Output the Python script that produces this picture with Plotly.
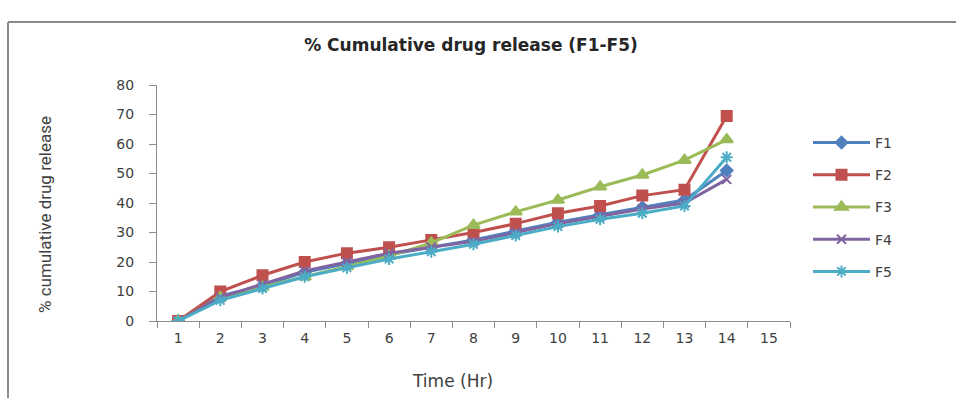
import plotly.graph_objects as go

# Sampling times (hours) shown on the category axis
hours = [str(h) for h in range(1, 16)]

# % cumulative drug release for each formulation (14 samples each)
f1 = [0, 8.5, 12, 16.5, 19.5, 22.5, 25, 27.5, 30.5, 33.5, 36, 38.5, 41, 51]
f2 = [0, 10, 15.5, 20, 23, 25, 27.5, 30, 33, 36.5, 39, 42.5, 44.5, 69.5]
f3 = [0, 8, 11.5, 15, 18.5, 22, 26.5, 32.5, 37, 41, 45.5, 49.5, 54.5, 61.5]
f4 = [0, 8, 12.5, 17, 20, 23, 25, 27, 30, 33, 35.5, 38, 40, 48]
f5 = [0, 7, 11, 15, 18, 21, 23.5, 26, 29, 32, 34.5, 36.5, 39, 55.5]

y_ticks = [0, 10, 20, 30, 40, 50, 60, 70, 80]

series = [
    ("F1", f1, "#4F81BD", "diamond", 9),
    ("F2", f2, "#C0504D", "square", 10),
    ("F3", f3, "#9BBB59", "triangle-up", 11),
    ("F4", f4, "#8064A2", "x-thin-open", 9),
    ("F5", f5, "#4BACC6", "asterisk-open", 10),
]

fig = go.Figure()
for name, vals, color, symbol, size in series:
    fig.add_trace(go.Scatter(
        x=hours[:len(vals)], y=vals, name=name, legendgroup=name,
        mode="lines+markers",
        line=dict(color=color, width=3),
        marker=dict(symbol=symbol, size=size, color=color,
                    line=dict(color=color, width=2)),
    ))

axis_color = "#8C8C8C"
tick_font = dict(family="DejaVu Sans", size=14, color="#404040")

fig.update_layout(
    width=956, height=398,
    margin=dict(l=157, r=166, t=85, b=77),
    paper_bgcolor="white", plot_bgcolor="white",
    showlegend=True,
    legend=dict(
        xref="container", yref="container",
        x=808 / 956, y=(398 - 127) / 398,
        xanchor="left", yanchor="top",
        itemwidth=57, tracegroupgap=11,
        font=dict(family="DejaVu Sans", size=14, color="#404040"),
        bgcolor="rgba(0,0,0,0)",
    ),
    title=dict(
        text="<b>% Cumulative drug release (F1-F5)</b>",
        xref="container", yref="container",
        x=471 / 956, y=(398 - 45) / 398,
        xanchor="center", yanchor="middle",
        font=dict(family="DejaVu Sans", size=17, color="#262626"),
    ),
    xaxis=dict(
        type="category", categoryorder="array", categoryarray=hours,
        range=[-0.5, len(hours) - 0.5],
        tickmode="array", tickvals=hours, ticktext=hours,
        tickson="boundaries", ticks="outside", ticklen=6,
        tickcolor=axis_color, showline=True, linecolor=axis_color,
        linewidth=1, showgrid=False, zeroline=False,
        tickfont=tick_font, ticklabelstandoff=4,
    ),
    yaxis=dict(
        range=[0, 80], tickmode="array", tickvals=y_ticks,
        ticks="outside", ticklen=7, tickcolor=axis_color,
        showline=True, linecolor=axis_color, linewidth=1,
        showgrid=False, zeroline=False,
        tickfont=tick_font, ticklabelstandoff=12,
    ),
    annotations=[
        dict(text="Time (Hr)", xref="paper", yref="paper",
             x=(452 - 157) / 633, y=-(381 - 321) / 236,
             xanchor="center", yanchor="middle", showarrow=False,
             font=dict(family="DejaVu Sans", size=17, color="#404040")),
        dict(text="% cumulative drug release", xref="paper", yref="paper",
             x=-(157 - 45) / 633, y=(321 - 215) / 236,
             xanchor="center", yanchor="middle", textangle=-90,
             showarrow=False,
             font=dict(family="Roboto", size=17, color="#404040")),
    ],
    shapes=[
        # chart frame: left and top edges
        dict(type="line", xref="paper", yref="paper",
             x0=-(157 - 8) / 633, x1=-(157 - 8) / 633,
             y0=-(400 - 321) / 236, y1=(321 - 22) / 236,
             line=dict(color="#8A8A8A", width=2)),
        dict(type="line", xref="paper", yref="paper",
             x0=-(157 - 8) / 633, x1=(960 - 157) / 633,
             y0=(321 - 22) / 236, y1=(321 - 22) / 236,
             line=dict(color="#8A8A8A", width=2)),
    ],
)

fig.write_html("out.html")
